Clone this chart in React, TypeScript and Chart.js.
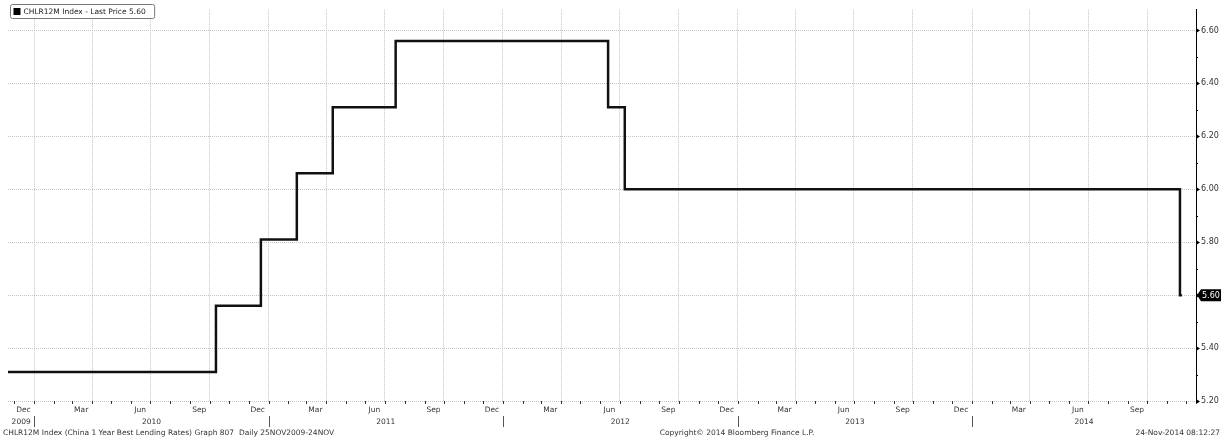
import React, { useEffect, useRef } from 'react';
import { Chart, registerables } from 'chart.js';

Chart.register(...registerables);

// ---- data ----
const stepDates = ['2009-11-21', '2010-10-11', '2010-12-20', '2011-02-14', '2011-04-11', '2011-07-18', '2012-06-13', '2012-07-09', '2014-11-21', '2014-11-24'];
const stepValues = [5.31, 5.56, 5.81, 6.06, 6.31, 6.56, 6.31, 6.0, 5.6, 5.6];
const yTickValues = [5.2, 5.4, 5.6, 5.8, 6.0, 6.2, 6.4, 6.6];
const yMin = 5.2;
const yMax = 6.678;
const axisStart = '2009-11-21';
const axisEnd = '2014-12-16';
const monthNames = ['Jan', 'Feb', 'Mar', 'Apr', 'May', 'Jun', 'Jul', 'Aug', 'Sep', 'Oct', 'Nov', 'Dec'];
const labelledMonths = [2, 5, 8, 11]; // Mar, Jun, Sep, Dec
const years = [2009, 2010, 2011, 2012, 2013, 2014];
const legendText = 'CHLR12M Index - Last Price 5.60';
const lastPrice = 5.6;
const lastPriceText = '5.60';
const footerLeft = 'CHLR12M Index (China 1 Year Best Lending Rates) Graph 807  Daily 25NOV2009-24NOV';
const footerCenter = 'Copyright\u00a9 2014 Bloomberg Finance L.P.';
const footerRight = '24-Nov-2014 08:12:27';

const FONT = '"DejaVu Sans", sans-serif';

function dayNum(s: string): number {
  const [y, m, d] = s.split('-').map(Number);
  return Date.UTC(y, m - 1, d) / 86400000;
}
function dayOf(y: number, m: number, d: number): number {
  return Date.UTC(y, m, d) / 86400000;
}

const xMin = dayNum(axisStart);
const xMax = dayNum(axisEnd);

function quarterStarts(): number[] {
  const out: number[] = [];
  for (let y = 2009; y <= 2015; y++) {
    for (const m of [0, 3, 6, 9]) {
      const v = dayOf(y, m, 1);
      if (v > xMin && v < xMax) out.push(v);
    }
  }
  return out;
}

const decorPlugin = {
  id: 'bbgDecor',
  afterDraw(chart: any) {
    const ctx: CanvasRenderingContext2D = chart.ctx;
    const xs = chart.scales.x;
    const ys = chart.scales.y;
    const area = chart.chartArea;
    ctx.save();

    // y axis arrows + minor ticks
    ctx.fillStyle = '#000';
    ctx.strokeStyle = '#000';
    ctx.lineWidth = 1;
    for (const v of yTickValues) {
      const py = Math.round(ys.getPixelForValue(v)) + 0.5;
      ctx.beginPath();
      ctx.moveTo(area.right, py - 2.5);
      ctx.lineTo(area.right + 4, py);
      ctx.lineTo(area.right, py + 2.5);
      ctx.closePath();
      ctx.fill();
      const mv = v + 0.1;
      if (mv < yMax) {
        const my = Math.round(ys.getPixelForValue(mv)) + 0.5;
        ctx.beginPath();
        ctx.moveTo(area.right, my);
        ctx.lineTo(area.right + 2, my);
        ctx.stroke();
      }
    }

    // x month ticks
    ctx.strokeStyle = '#333';
    for (let y = 2009; y <= 2014; y++) {
      for (let m = 0; m < 12; m++) {
        const v = dayOf(y, m, 1);
        if (v < xMin || v > xMax) continue;
        const px = Math.round(xs.getPixelForValue(v)) + 0.5;
        ctx.beginPath();
        ctx.moveTo(px, area.bottom);
        ctx.lineTo(px, area.bottom + 3);
        ctx.stroke();
      }
    }

    // month labels (only months fully shown)
    ctx.fillStyle = '#333';
    ctx.font = `7.5px ${FONT}`;
    ctx.textAlign = 'center';
    ctx.textBaseline = 'middle';
    for (let y = 2009; y <= 2014; y++) {
      for (const m of labelledMonths) {
        const v = dayOf(y, m, 15);
        if (v < xMin || v > xMax - 10) continue;
        ctx.fillText(monthNames[m], xs.getPixelForValue(v), area.bottom + 9);
      }
    }

    // year separators and labels
    ctx.strokeStyle = '#555';
    for (const y of years) {
      const s = Math.max(dayOf(y, 0, 1), xMin);
      const e = Math.min(dayOf(y + 1, 0, 1), xMax);
      const cx = (xs.getPixelForValue(s) + xs.getPixelForValue(e)) / 2;
      ctx.fillText(String(y), cx, area.bottom + 21);
      const j = dayOf(y, 0, 1);
      if (j > xMin && j < xMax) {
        const px = Math.round(xs.getPixelForValue(j)) + 0.5;
        ctx.beginPath();
        ctx.moveTo(px, area.bottom + 15);
        ctx.lineTo(px, area.bottom + 26);
        ctx.stroke();
      }
    }

    // footer
    ctx.font = `7.5px ${FONT}`;
    ctx.fillStyle = '#333';
    ctx.textAlign = 'left';
    ctx.fillText(footerLeft, 3, 433);
    ctx.textAlign = 'center';
    ctx.fillText(footerCenter, 737, 433);
    ctx.textAlign = 'right';
    ctx.fillText(footerRight, 1220, 433);

    // legend box
    ctx.font = `7.5px ${FONT}`;
    const tw = ctx.measureText(legendText).width;
    const bx = 10.5, by = 4.5, bw = tw + 22, bh = 14;
    ctx.fillStyle = '#fff';
    ctx.strokeStyle = '#777';
    ctx.beginPath();
    (ctx as any).roundRect(bx, by, bw, bh, 2);
    ctx.fill();
    ctx.stroke();
    ctx.fillStyle = '#000';
    ctx.fillRect(bx + 3, by + 3.5, 7, 7);
    ctx.fillStyle = '#222';
    ctx.textAlign = 'left';
    ctx.textBaseline = 'middle';
    ctx.fillText(legendText, bx + 13, by + bh / 2 + 0.5);

    // last price badge
    const ly = ys.getPixelForValue(lastPrice);
    const lx = area.right + 1;
    ctx.fillStyle = '#000';
    ctx.beginPath();
    ctx.moveTo(lx, ly);
    ctx.lineTo(lx + 4, ly - 6);
    ctx.lineTo(lx + 24, ly - 6);
    ctx.lineTo(lx + 24, ly + 6);
    ctx.lineTo(lx + 4, ly + 6);
    ctx.closePath();
    ctx.fill();
    ctx.fillStyle = '#fff';
    ctx.font = `8px ${FONT}`;
    ctx.textAlign = 'left';
    ctx.fillText(lastPriceText, lx + 5, ly + 0.5);

    ctx.restore();
  },
};

export default function App() {
  const ref = useRef<HTMLCanvasElement | null>(null);
  useEffect(() => {
    document.body.style.margin = '0';
    const canvas = ref.current!;
    const chart = new Chart(canvas, {
      type: 'line',
      data: {
        datasets: [
          {
            data: stepDates.map((d, i) => ({ x: dayNum(d), y: stepValues[i] })),
            borderColor: '#111',
            borderWidth: 2.5,
            stepped: 'before',
            pointRadius: 0,
            fill: false,
          },
        ],
      },
      options: {
        responsive: false,
        animation: false,
        layout: { padding: { left: 8, top: 5, right: 0, bottom: 0 } },
        plugins: { legend: { display: false }, tooltip: { enabled: false } },
        scales: {
          x: {
            type: 'linear',
            min: xMin,
            max: xMax,
            afterBuildTicks: (s: any) => {
              s.ticks = quarterStarts().map((v) => ({ value: v }));
            },
            afterFit: (s: any) => {
              s.height = 38;
            },
            ticks: { display: false },
            grid: { color: '#c4c4c4', drawTicks: false, lineWidth: 1 },
            border: { display: false, dash: [1, 1] },
          },
          y: {
            position: 'right',
            min: yMin,
            max: yMax,
            afterBuildTicks: (s: any) => {
              s.ticks = yTickValues.map((v) => ({ value: v }));
            },
            afterFit: (s: any) => {
              s.width = 27;
            },
            ticks: {
              callback: (v: any) => Number(v).toFixed(2),
              font: { size: 8, family: FONT },
              color: '#333',
              padding: 5,
            },
            grid: { color: '#c4c4c4', drawTicks: false, lineWidth: 1 },
            border: { display: true, color: '#000', width: 1, dash: [1, 1] },
          },
        },
      },
      plugins: [decorPlugin],
    } as any);
    return () => chart.destroy();
  }, []);
  return <canvas ref={ref} width={1223} height={439} style={{ display: 'block' }} />;
}
